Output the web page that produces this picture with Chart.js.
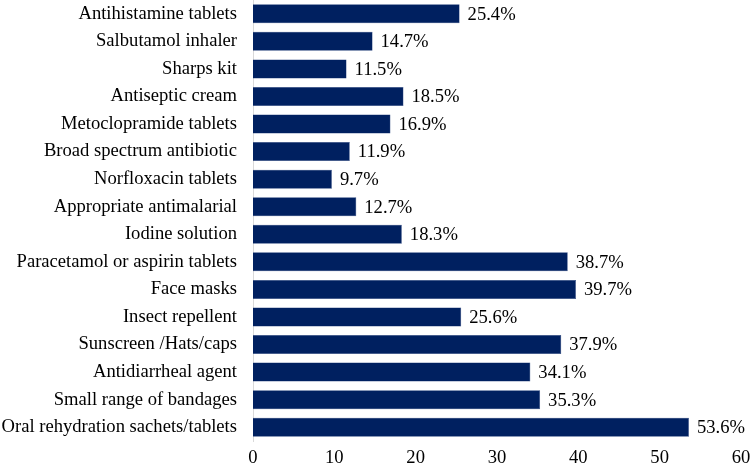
<!DOCTYPE html>
<html>
<head>
<meta charset="utf-8">
<script src="https://cdn.jsdelivr.net/npm/chart.js@4.4.0/dist/chart.umd.min.js"></script>
<style>
html,body{margin:0;padding:0;background:#fff;}
#wrap{width:750px;height:468px;position:relative;}
</style>
</head>
<body>
<div id="wrap"><canvas id="c" width="750" height="468"></canvas></div>
<script>
const categories = [
  "Antihistamine tablets",
  "Salbutamol inhaler",
  "Sharps kit",
  "Antiseptic cream",
  "Metoclopramide tablets",
  "Broad spectrum antibiotic",
  "Norfloxacin tablets",
  "Appropriate antimalarial",
  "Iodine solution",
  "Paracetamol or aspirin tablets",
  "Face masks",
  "Insect repellent",
  "Sunscreen /Hats/caps",
  "Antidiarrheal agent",
  "Small range of bandages",
  "Oral rehydration sachets/tablets"
];
const values = [25.4, 14.7, 11.5, 18.5, 16.9, 11.9, 9.7, 12.7, 18.3, 38.7, 39.7, 25.6, 37.9, 34.1, 35.3, 53.6];
const xTicks = [0, 10, 20, 30, 40, 50, 60];

const FONT = "'Liberation Serif', 'Times New Roman', serif";
const FS = 18.6;

const valueLabels = {
  id: 'valueLabels',
  afterDatasetsDraw(chart) {
    const ctx = chart.ctx;
    const meta = chart.getDatasetMeta(0);
    ctx.save();
    ctx.font = FS + "px " + FONT;
    ctx.fillStyle = "#000";
    ctx.textAlign = "left";
    ctx.textBaseline = "middle";
    meta.data.forEach((bar, i) => {
      ctx.fillText(values[i].toFixed(1) + "%", bar.x + 8, bar.y + 1);
    });
    ctx.restore();
  }
};

new Chart(document.getElementById('c'), {
  type: 'bar',
  data: {
    labels: categories,
    datasets: [{
      data: values,
      backgroundColor: '#002060',
      borderColor: '#1f3a78',
      borderWidth: 0.5,
      barPercentage: 0.69,
      categoryPercentage: 1.0
    }]
  },
  options: {
    indexAxis: 'y',
    responsive: false,
    animation: false,
    layout: { padding: { top: 0, right: 9, bottom: 0, left: 0 } },
    plugins: { legend: { display: false }, tooltip: { enabled: false } },
    scales: {
      x: {
        min: 0, max: 60,
        afterBuildTicks(scale) { scale.ticks = xTicks.map(v => ({ value: v })); },
        afterFit(scale) { scale.height = 27; scale.paddingLeft = 0; scale.paddingRight = 0; },
        grid: { display: false, drawTicks: false },
        border: { display: false },
        ticks: { color: '#000', font: { family: FONT, size: FS }, padding: 6, maxRotation: 0 }
      },
      y: {
        afterFit(scale) { scale.width = 253; scale.paddingTop = 0; scale.paddingBottom = 0; },
        grid: { display: false, drawTicks: false },
        border: { display: true, color: '#d9d9d9', width: 1 },
        ticks: { color: '#000', font: { family: FONT, size: FS }, padding: 16, autoSkip: false }
      }
    }
  },
  plugins: [valueLabels]
});
</script>
</body>
</html>
